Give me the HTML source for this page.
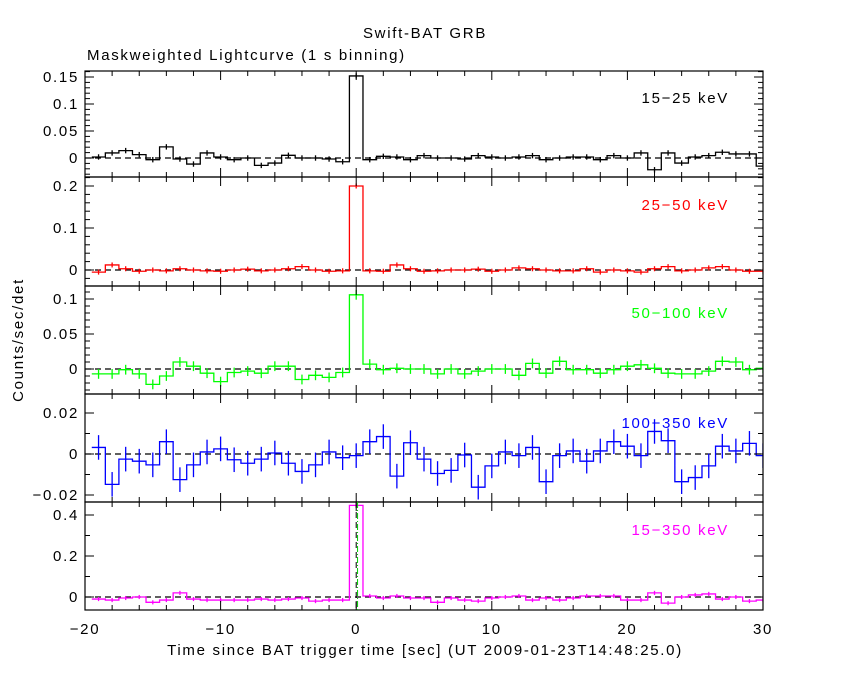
<!DOCTYPE html>
<html><head><meta charset="utf-8"><style>
body{margin:0;background:#fff}
svg{display:block;font-family:"Liberation Sans",sans-serif}
svg text{font-size:15px;letter-spacing:1.7px}
</style></head><body>
<svg id="chart" width="850" height="680" viewBox="0 0 850 680" xmlns="http://www.w3.org/2000/svg">
<rect width="850" height="680" fill="#fff"/>
<text x="425" y="38" text-anchor="middle">Swift-BAT GRB</text>
<text x="87" y="60">Maskweighted Lightcurve (1 s binning)</text>
<text x="425" y="655" text-anchor="middle">Time since BAT trigger time [sec] (UT 2009-01-23T14:48:25.0)</text>
<text x="0" y="0" transform="translate(23,340) rotate(-90)" text-anchor="middle">Counts/sec/det</text>
<g id="plots"></g>
</svg>
<script>
const times = [-19,-18,-17,-16,-15,-14,-13,-12,-11,-10,-9,-8,-7,-6,-5,-4,-3,-2,-1,0,1,2,3,4,5,6,7,8,9,10,11,12,13,14,15,16,17,18,19,20,21,22,23,24,25,26,27,28,29,30];
const rate15_25 = [1.9,9.4,13.7,6.2,-3.1,20.6,-1.9,-11.2,9.4,1.9,-3.1,0,-13.7,-9.4,5,0,0,-1.9,-6.9,152,-3.1,3.1,1.9,-3.1,4.4,0,0,-1.9,4.4,1.9,0,1.9,4.4,-3.1,0,1.9,1.9,-3.1,4.4,0,9.4,-21.8,9.4,-9.4,1.9,4.4,10.6,7.5,7.5,-15];
const rate25_50 = [-5,12,3,-3,0,-2,3,0,-2,-3,0,2,-2,0,3,8,0,-3,-2,200,-2,-3,12,3,-3,-2,0,0,2,-3,0,5,3,0,-2,-2,3,-5,0,-2,-5,3,8,-2,0,5,8,0,-3,-3];
const rate50_100 = [-7,-7,-1,-7,-22,-10,10,4,-6,-18,-5,-3,-6,4,4,-15,-9,-12,-5,106,7,-1,1,0,0,-7,0,-7,-3,0,0,-9,8,-6,11,-1,-1,-6,-1,4,6,1,-6,-7,-7,-3,11,10,-1,1];
const rate100_350 = [3.2,-14.8,-2.5,-3.5,-5.3,6,-12.5,-5.3,1,2.5,-2.8,-4.5,-2.5,0.5,-4.5,-8.5,-5.3,1,-1.8,-0.8,6,8.5,-10.8,5.5,-2.5,-9.5,-8,-0.5,-16.2,-5.8,1,-0.8,3.2,-13.5,-0.8,1.5,-3.5,1.5,6,3.8,-0.8,11,6.5,-13.5,-11.5,-5.8,3.8,1.5,5.2,-0.8];
const rate15_350 = [-10,-15,-5,0,-26,-15,20,-10,-15,-15,-15,-15,-10,-15,-10,-5,-20,-15,-15,447,5,-5,5,-5,-5,-26,-5,-15,-20,-5,0,5,-15,-5,-15,-5,5,5,5,-15,-15,20,-30,0,10,15,-10,0,-20,-15];
const errs = [5,6,7,6,10];
const xTicks = [-20,-10,0,10,20,30];
const yTicks1 = [0,0.05,0.1,0.15], yTicks2=[0,0.1,0.2], yTicks3=[0,0.05,0.1], yTicks4=[-0.02,0,0.02], yTicks5=[0,0.2,0.4];

const NS="http://www.w3.org/2000/svg";
const L=85,R=763,X0=-20,X1=30;
const xs=t=>L+(t-X0)/(X1-X0)*(R-L);
const g=document.getElementById('plots');
function mk(tag,attrs,parent){const e=document.createElementNS(NS,tag);for(const k in attrs)e.setAttribute(k,attrs[k]);(parent||g).appendChild(e);return e;}

const panels=[
 {top:71,bot:177,v0:158,vref:0.05,pref:131,data:rate15_25,ticks:yTicks1,minor:0.01,color:'#000',label:'15−25 keV',ly:103,name:'panel-15-25kev'},
 {top:177,bot:286,v0:270,vref:0.1,pref:228,data:rate25_50,ticks:yTicks2,minor:0.02,color:'#f00',label:'25−50 keV',ly:210,name:'panel-25-50kev'},
 {top:286,bot:394,v0:369,vref:0.05,pref:334,data:rate50_100,ticks:yTicks3,minor:0.01,color:'#0f0',label:'50−100 keV',ly:318,name:'panel-50-100kev'},
 {top:394,bot:502,v0:454,vref:0.02,pref:413,data:rate100_350,ticks:yTicks4,minor:0.01,color:'#00f',label:'100−350 keV',ly:428,name:'panel-100-350kev'},
 {top:502,bot:610,v0:597,vref:0.2,pref:556,data:rate15_350,ticks:yTicks5,minor:0.1,color:'#f0f',label:'15−350 keV',ly:535,name:'panel-15-350kev'}
];
panels.forEach((p,pi)=>{
 const pg=mk('g',{});
 
 
 const ys=v=>p.v0-(v/p.vref)*(p.v0-p.pref);
 const clip=mk('clipPath',{id:'c'+pi},pg);
 mk('rect',{x:L,y:p.top,width:R-L,height:p.bot-p.top},clip);
 const z=mk('line',{x1:L,x2:R,y1:ys(0),y2:ys(0),stroke:'#000','stroke-dasharray':'6,4','stroke-width':1.3},pg);
 
 
 const sg=mk('g',{'clip-path':'url(#c'+pi+')'},pg);
 let d='';
 p.data.forEach((v,i)=>{
  const vv=v/1000,x0=xs(times[i]-0.5),x1=xs(times[i]+0.5);
  d+=(i?'L':'M')+x0+','+ys(vv)+'L'+x1+','+ys(vv);
 });
 const path=mk('path',{d:d,fill:'none',stroke:p.color,'stroke-width':1.3},sg);
 
 
 p.data.forEach((v,i)=>{
  const vv=v/1000,e=errs[pi]/1000,x=xs(times[i]);
  const eb=mk('line',{x1:x,x2:x,y1:ys(vv-e),y2:ys(vv+e),stroke:p.color,'stroke-width':1.3},sg);
  
  
 });
 const fr=mk('rect',{x:L,y:p.top,width:R-L,height:p.bot-p.top,fill:'none',stroke:'#000','stroke-width':1.2},pg);
 
 
 for(let t=X0;t<=X1;t+=2){const x=xs(t),len=(t%10===0)?9:5;
  mk('line',{x1:x,x2:x,y1:p.bot,y2:p.bot-len,stroke:'#000'},pg);
  mk('line',{x1:x,x2:x,y1:p.top,y2:p.top+len,stroke:'#000'},pg);}
 for(let v=p.ticks[0]-p.minor*5;v<=p.ticks[p.ticks.length-1]+p.minor*5;v+=p.minor){
  const y=ys(v);if(y<p.top||y>p.bot)continue;
  const maj=p.ticks.some(t=>Math.abs(t-v)<p.minor/10);const len=maj?9:5;
  mk('line',{x1:L,x2:L+len,y1:y,y2:y,stroke:'#000'},pg);
  mk('line',{x1:R,x2:R-len,y1:y,y2:y,stroke:'#000'},pg);}
 p.ticks.forEach(t=>{const tx=mk('text',{x:79,y:ys(t)+5,'text-anchor':'end'},pg);
  tx.textContent=(t===0?'0':(t<0?'−':'')+String(Math.abs(t)));
  
  });
 const lb=mk('text',{x:729,y:p.ly,'text-anchor':'end',fill:p.color},pg);
 lb.textContent=p.label;
 
 
});
xTicks.forEach(t=>{const tx=mk('text',{x:xs(t),y:634,'text-anchor':'middle'});
 tx.textContent=(t<0?'−':'')+Math.abs(t);
 
 });
const tl=mk('line',{x1:xs(0.1),x2:xs(0.1),y1:502,y2:610,stroke:'#0c0','stroke-dasharray':'6,2,1,2'});


const tl2=mk('line',{x1:xs(0),x2:xs(0),y1:502,y2:610,stroke:'#000','stroke-dasharray':'6,4'});


</script>
</body></html>
